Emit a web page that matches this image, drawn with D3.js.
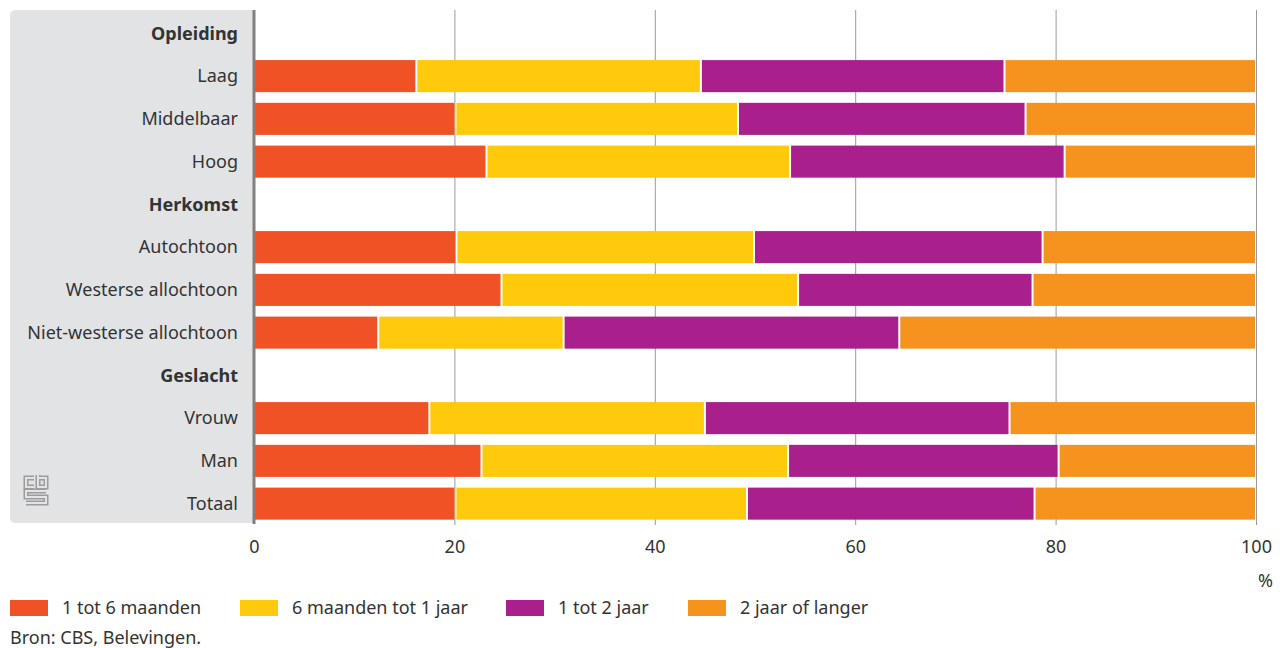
<!DOCTYPE html>
<html>
<head>
<meta charset="utf-8">
<script src="https://cdn.jsdelivr.net/npm/d3@7"></script>
<style>
  html, body { margin: 0; padding: 0; background: #ffffff; }
  svg { display: block; }
  text { font-family: "Noto Sans", "Open Sans", sans-serif; fill: #333333; }
</style>
</head>
<body>
<svg id="chart" width="1282" height="648"></svg>
<script>
// Rows, top to bottom; group headings carry no bar
const categories = [
  "Opleiding", "Laag", "Middelbaar", "Hoog",
  "Herkomst", "Autochtoon", "Westerse allochtoon", "Niet-westerse allochtoon",
  "Geslacht", "Vrouw", "Man", "Totaal"
];
const headings = ["Opleiding", "Herkomst", "Geslacht"];

const seriesNames = ["1 tot 6 maanden", "6 maanden tot 1 jaar", "1 tot 2 jaar", "2 jaar of langer"];
const seriesColors = ["#f05125", "#ffca0b", "#a91f8c", "#f6921e"];

// Share (%) per series, in the order of barCategories
const barCategories = ["Laag", "Middelbaar", "Hoog", "Autochtoon", "Westerse allochtoon",
  "Niet-westerse allochtoon", "Vrouw", "Man", "Totaal"];
const s1tot6maanden   = [16.2, 20.1, 23.2, 20.2, 24.7, 12.4, 17.5, 22.7, 20.1];
const s6maandenTot1   = [28.4, 28.2, 30.3, 29.7, 29.6, 18.5, 27.5, 30.6, 29.1];
const s1tot2jaar      = [30.3, 28.7, 27.4, 28.8, 23.4, 33.5, 30.4, 27.0, 28.7];
const s2jaarOfLanger  = [25.1, 23.0, 19.1, 21.3, 22.3, 35.6, 24.6, 19.7, 22.1];

const xTicks = [0, 20, 40, 60, 80, 100];

const svg = d3.select("#chart");

const plot = { left: 254, right: 1256, top: 10, bottom: 523 };
const FS = 18;

const x = d3.scaleLinear().domain([0, 100]).range([plot.left, plot.right]);
const y = d3.scaleBand().domain(categories).range([plot.top + 2, plot.bottom + 2]).paddingInner(0.25).paddingOuter(0.125);

// Grey label panel with rounded left corners
const panelL = 10, panelR = 253, r = 6;
svg.append("path")
  .attr("d", `M${panelR},${plot.top} H${panelL + r} Q${panelL},${plot.top} ${panelL},${plot.top + r}
              V${plot.bottom - r} Q${panelL},${plot.bottom} ${panelL + r},${plot.bottom} H${panelR} Z`)
  .attr("fill", "#e2e3e5");

// Vertical gridlines
svg.append("g").selectAll("line")
  .data(xTicks.filter(d => d > 0))
  .join("line")
  .attr("x1", d => x(d) + 0.5).attr("x2", d => x(d) + 0.5)
  .attr("y1", plot.top).attr("y2", plot.bottom + 2)
  .attr("stroke", "#9a9a9a").attr("stroke-width", 1);

// Stacked bars
const seriesData = [s1tot6maanden, s6maandenTot1, s1tot2jaar, s2jaarOfLanger];
const rows = barCategories.map((c, i) => {
  const row = { cat: c };
  seriesNames.forEach((n, k) => row[n] = seriesData[k][i]);
  return row;
});
const stacked = d3.stack().keys(seriesNames)(rows);

svg.append("g").selectAll("g")
  .data(stacked)
  .join("g")
  .attr("fill", (d, i) => seriesColors[i])
  .selectAll("rect")
  .data(d => d)
  .join("rect")
  .attr("x", d => x(d[0]) + 1)
  .attr("y", d => y(d.data.cat))
  .attr("width", d => Math.max(0, x(d[1]) - x(d[0]) - 2))
  .attr("height", y.bandwidth());

// Left axis rule
svg.append("line")
  .attr("x1", 254).attr("x2", 254)
  .attr("y1", plot.top).attr("y2", plot.bottom + 1)
  .attr("stroke", "#808080").attr("stroke-width", 3);

// Category labels
svg.append("g").selectAll("text")
  .data(categories)
  .join("text")
  .attr("x", 238)
  .attr("y", d => y(d) + y.bandwidth() / 2)
  .attr("dy", "0.35em")
  .attr("text-anchor", "end")
  .attr("font-size", FS)
  .attr("font-weight", d => headings.includes(d) ? 700 : 400)
  .text(d => d);

// X axis labels
svg.append("g").selectAll("text")
  .data(xTicks)
  .join("text")
  .attr("x", d => x(d) + 0.5)
  .attr("y", 553)
  .attr("text-anchor", "middle")
  .attr("font-size", FS)
  .text(d => d);

svg.append("text")
  .attr("x", 1273).attr("y", 587)
  .attr("text-anchor", "end")
  .attr("font-size", FS)
  .text("%");

// Legend
const legendX = [10, 240, 506, 688];
const legend = svg.append("g").selectAll("g")
  .data(seriesNames)
  .join("g")
  .attr("transform", (d, i) => `translate(${legendX[i]},600)`);
legend.append("rect")
  .attr("width", 38).attr("height", 16)
  .attr("fill", (d, i) => seriesColors[i]);
legend.append("text")
  .attr("x", 52).attr("y", 8).attr("dy", "0.35em")
  .attr("font-size", FS)
  .text(d => d);

svg.append("text")
  .attr("x", 10).attr("y", 644)
  .attr("font-size", FS)
  .text("Bron: CBS, Belevingen.");

// Small cbs logo mark in the panel
const logo = svg.append("g").attr("fill", "none").attr("stroke-linejoin", "miter");
const logoPaths = [
  "M34,478 H26 V487 H34",
  "M38,475 V487 H46 V478 H38",
  "M46,491 H26 V497 H46 V503 H26"
];
logo.selectAll("path.outer").data(logoPaths).join("path")
  .attr("class", "outer").attr("d", d => d)
  .attr("stroke", "#9c9c9c").attr("stroke-width", 5);
logo.selectAll("path.inner").data(logoPaths).join("path")
  .attr("class", "inner").attr("d", d => d)
  .attr("stroke", "#e2e3e5").attr("stroke-width", 2);
</script>
</body>
</html>
